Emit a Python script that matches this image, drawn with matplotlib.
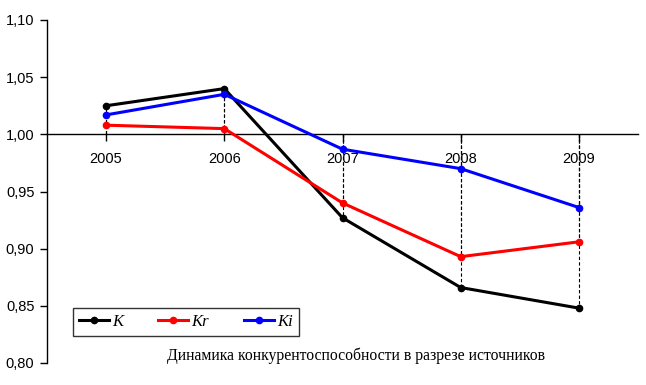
import matplotlib
matplotlib.use('Agg')
import matplotlib.pyplot as plt

plt.rcParams['font.family'] = ['Liberation Serif', 'DejaVu Serif']

years = ['2005', '2006', '2007', '2008', '2009']
k_vals = [1.025, 1.040, 0.927, 0.866, 0.848]
kr_vals = [1.008, 1.005, 0.940, 0.893, 0.906]
ki_vals = [1.017, 1.035, 0.987, 0.970, 0.936]
y_ticks = [0.80, 0.85, 0.90, 0.95, 1.00, 1.05, 1.10]
series = [('K', k_vals, 'black'), ('Kr', kr_vals, 'red'), ('Ki', ki_vals, 'blue')]

fig = plt.figure(figsize=(6.46, 3.85), dpi=100)
ax = fig.add_axes([47 / 646, 22 / 385, 591 / 646, 343 / 385])

ax.spines['top'].set_visible(False)
ax.spines['right'].set_visible(False)
ax.spines['bottom'].set_position(('data', 1.0))
ax.spines['left'].set_linewidth(1.0)
ax.spines['bottom'].set_linewidth(1.0)

x = list(range(len(years)))

# drop lines from the axis (1.0) to every point
for i in x:
    for _, vals, _c in series:
        ax.plot([i, i], [1.0, vals[i]], color='black', lw=0.8, ls=(0, (3, 2)), zorder=1)

for name, vals, c in series:
    ax.plot(x, vals, color=c, lw=2.2, marker='o', ms=4.5, label=name, zorder=3)

ax.set_xlim(-0.5, 4.5)
ax.set_ylim(0.80, 1.10)
ax.set_yticks(y_ticks)
ax.set_yticklabels(['{:.2f}'.format(v).replace('.', ',') for v in y_ticks],
                   fontsize=10.5, family='Liberation Sans')
ax.set_xticks(x)
ax.set_xticklabels(years, fontsize=10.5, family='Liberation Sans')

ax.tick_params(axis='y', direction='out', length=5, width=1, pad=4)
ax.tick_params(axis='x', direction='out', length=5, width=1, pad=8)

leg = ax.legend(loc='lower left', bbox_to_anchor=(26 / 591, 27 / 343), ncol=3,
                frameon=True, fancybox=False, edgecolor='black', borderpad=0.35,
                handlelength=1.8, columnspacing=2.1, handletextpad=0.2,
                borderaxespad=0, prop={'style': 'italic', 'size': 12})
leg.get_frame().set_linewidth(1.0)

fig.text(356 / 646, 1 - 356 / 385, 'Динамика конкурентоспособности в разрезе источников',
         ha='center', va='center', fontsize=11.3)

fig.savefig('out.png', dpi=100)
